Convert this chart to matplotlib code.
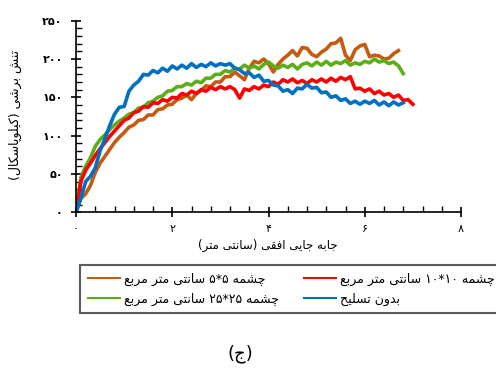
import numpy as np
import matplotlib
matplotlib.use("Agg")
import matplotlib.pyplot as plt
from matplotlib.ticker import FixedLocator, MultipleLocator

# ---------------- data ----------------
x_blue = np.round(np.arange(0, 6.85, 0.1), 2)
blue = [0, 18, 40, 47, 58, 80, 96, 113, 128, 137, 138, 158, 166, 171, 180, 179, 185, 182, 188, 184,
        191, 187, 192, 188, 194, 189, 193, 190, 195, 191, 194, 192, 194, 188, 186, 181, 182, 176, 179, 171,
        172, 166, 165, 158, 160, 155, 162, 161, 167, 162, 163, 156, 157, 150, 152, 146, 148, 142, 145, 141,
        145, 142, 146, 140, 144, 139, 144, 140, 143]

x_red = np.round(np.arange(0, 7.05, 0.1), 2)
red = [0, 40, 55, 64, 74, 83, 91, 99, 106, 113, 120, 123, 130, 132, 138, 137, 143, 142, 147, 145,
       150, 149, 155, 153, 158, 155, 160, 158, 163, 160, 164, 161, 164, 160, 149, 161, 159, 164, 161, 166,
       164, 170, 167, 173, 170, 174, 169, 172, 168, 173, 170, 174, 170, 175, 171, 176, 173, 177, 161, 162,
       158, 161, 155, 158, 153, 155, 150, 153, 146, 147, 141]

x_green = np.round(np.arange(0, 6.85, 0.1), 2)
green = [0, 45, 60, 71, 86, 95, 101, 108, 114, 119, 123, 128, 130, 136, 137, 143, 145, 150, 152, 158,
         159, 164, 164, 168, 166, 171, 169, 175, 175, 180, 180, 185, 183, 188, 187, 192, 188, 191, 187, 193,
         196, 191, 188, 192, 189, 193, 187, 193, 195, 191, 196, 192, 197, 192, 196, 194, 198, 192, 195, 193,
         197, 195, 200, 196, 198, 194, 196, 191, 181]

x_orange = np.round(np.arange(0, 6.75, 0.1), 2)
orange = [0, 18, 24, 35, 52, 64, 73, 82, 91, 98, 104, 111, 114, 120, 121, 127, 127, 134, 135, 140,
          141, 147, 149, 153, 147, 155, 159, 165, 164, 170, 170, 177, 177, 183, 178, 173, 188, 197, 195, 200,
          194, 183, 193, 200, 205, 211, 204, 215, 214, 206, 203, 209, 213, 220, 221, 227, 205, 198, 212, 217,
          219, 203, 205, 204, 200, 201, 207, 211]

x_ticks = [0, 2, 4, 6, 8]
y_ticks = [0, 50, 100, 150, 200, 250]

series_labels = {
    "orange": "چشمه ۵*۵ سانتی متر مربع",
    "green": "چشمه ۲۵*۲۵ سانتی متر مربع",
    "red": "چشمه ۱۰*۱۰ سانتی متر مربع",
    "blue": "بدون تسلیح",
}
xlabel_text = "جابه جایی افقی (سانتی متر)"
ylabel_text = "تنش برشی (کیلوپاسکال)"
panel_text = "(ج)"

# ------------- minimal Persian shaping (matplotlib has no complex text layout) -------------
FORMS = {
    'ا': ('\uFE8D', '\uFE8E', None, None),
    'ب': ('\uFE8F', '\uFE90', '\uFE91', '\uFE92'),
    'پ': ('\uFB56', '\uFB57', '\uFB58', '\uFB59'),
    'ت': ('\uFE95', '\uFE96', '\uFE97', '\uFE98'),
    'ج': ('\uFE9D', '\uFE9E', '\uFE9F', '\uFEA0'),
    'چ': ('\uFB7A', '\uFB7B', '\uFB7C', '\uFB7D'),
    'ح': ('\uFEA1', '\uFEA2', '\uFEA3', '\uFEA4'),
    'د': ('\uFEA9', '\uFEAA', None, None),
    'ر': ('\uFEAD', '\uFEAE', None, None),
    'س': ('\uFEB1', '\uFEB2', '\uFEB3', '\uFEB4'),
    'ش': ('\uFEB5', '\uFEB6', '\uFEB7', '\uFEB8'),
    'ع': ('\uFEC9', '\uFECA', '\uFECB', '\uFECC'),
    'ف': ('\uFED1', '\uFED2', '\uFED3', '\uFED4'),
    'ق': ('\uFED5', '\uFED6', '\uFED7', '\uFED8'),
    'ک': ('\uFB8E', '\uFB8F', '\uFB90', '\uFB91'),
    'ل': ('\uFEDD', '\uFEDE', '\uFEDF', '\uFEE0'),
    'م': ('\uFEE1', '\uFEE2', '\uFEE3', '\uFEE4'),
    'ن': ('\uFEE5', '\uFEE6', '\uFEE7', '\uFEE8'),
    'ه': ('\uFEE9', '\uFEEA', '\uFEEB', '\uFEEC'),
    'و': ('\uFEED', '\uFEEE', None, None),
    'ی': ('\uFBFC', '\uFBFD', '\uFBFE', '\uFBFF'),
}
DIGITS = set('۰۱۲۳۴۵۶۷۸۹0123456789')


def shape(s):
    out = []
    n = len(s)
    for i, c in enumerate(s):
        if c not in FORMS:
            out.append(c)
            continue
        prev = s[i - 1] if i > 0 else ''
        nxt = s[i + 1] if i < n - 1 else ''
        pj = prev in FORMS and FORMS[prev][2] is not None
        nj = nxt in FORMS and FORMS[c][2] is not None
        iso, fin, ini, med = FORMS[c]
        if pj and nj:
            out.append(med)
        elif pj:
            out.append(fin)
        elif nj:
            out.append(ini)
        else:
            out.append(iso)
    return ''.join(out)


def fa(s):
    t = shape(s)[::-1]
    res, run = [], []
    for ch in t:
        if ch in DIGITS:
            run.append(ch)
        else:
            if run:
                res.extend(run[::-1])
                run = []
            res.append({'(': ')', ')': '('}.get(ch, ch))
    if run:
        res.extend(run[::-1])
    return ''.join(res)


def fa_num(v):
    return ''.join('۰۱۲۳۴۵۶۷۸۹'[int(d)] for d in str(v))


# ---------------- figure ----------------
plt.rcParams['font.family'] = ['DejaVu Sans']
fig = plt.figure(figsize=(4.96, 3.70), dpi=100)
ax = fig.add_axes([76 / 496, 1 - 212.3 / 370, 385 / 496, 191.6 / 370])

c_orange = '#C55A11'
c_green = '#5BAE1A'
c_red = '#FF0000'
c_blue = '#0070C0'
lw = 2.6

l_or, = ax.plot(x_orange, orange, color=c_orange, lw=lw, label=fa(series_labels['orange']))
l_gr, = ax.plot(x_green, green, color=c_green, lw=lw, label=fa(series_labels['green']))
l_rd, = ax.plot(x_red, red, color=c_red, lw=lw, label=fa(series_labels['red']))
l_bl, = ax.plot(x_blue, blue, color=c_blue, lw=lw, label=fa(series_labels['blue']))

ax.set_xlim(0, 8)
ax.set_ylim(0, 250)
for sp in ['top', 'right']:
    ax.spines[sp].set_visible(False)
for sp in ['left', 'bottom']:
    ax.spines[sp].set_linewidth(1.2)

ax.xaxis.set_major_locator(FixedLocator(x_ticks))
ax.set_xticklabels([fa_num(v) for v in x_ticks], fontsize=8)
ax.yaxis.set_major_locator(FixedLocator(y_ticks))
ax.set_yticklabels([fa_num(v) for v in y_ticks], fontsize=8, fontweight='bold')
ax.xaxis.set_minor_locator(MultipleLocator(0.4))
ax.yaxis.set_minor_locator(MultipleLocator(10))
ax.tick_params(axis='both', which='major', direction='inout', length=7, width=1.2)
ax.tick_params(axis='both', which='minor', direction='in', length=4, width=1.0)
ax.tick_params(axis='x', which='major', pad=5)
ax.tick_params(axis='y', which='major', pad=6)

fig.text(268 / 496, 1 - 245 / 370, fa(xlabel_text), ha='center', va='center', fontsize=8.5)
fig.text(15 / 496, 1 - 115 / 370, fa(ylabel_text), ha='center', va='center', fontsize=9, rotation=90)

leg = fig.legend(handles=[l_or, l_gr, l_rd, l_bl], ncol=2, loc='upper left',
                 bbox_to_anchor=(80 / 496, 1 - 265 / 370), fontsize=9, frameon=True,
                 fancybox=False, edgecolor='#333333', handlelength=2.6, handletextpad=0.3,
                 columnspacing=2.0, borderpad=0.6, labelspacing=0.55, borderaxespad=0)
leg.get_frame().set_linewidth(1.5)
for h in leg.legend_handles:
    h.set_linewidth(1.5)

fig.text(240 / 496, 1 - 354 / 370, fa(panel_text), ha='center', va='center', fontsize=13)

fig.savefig('out.png', dpi=100)
